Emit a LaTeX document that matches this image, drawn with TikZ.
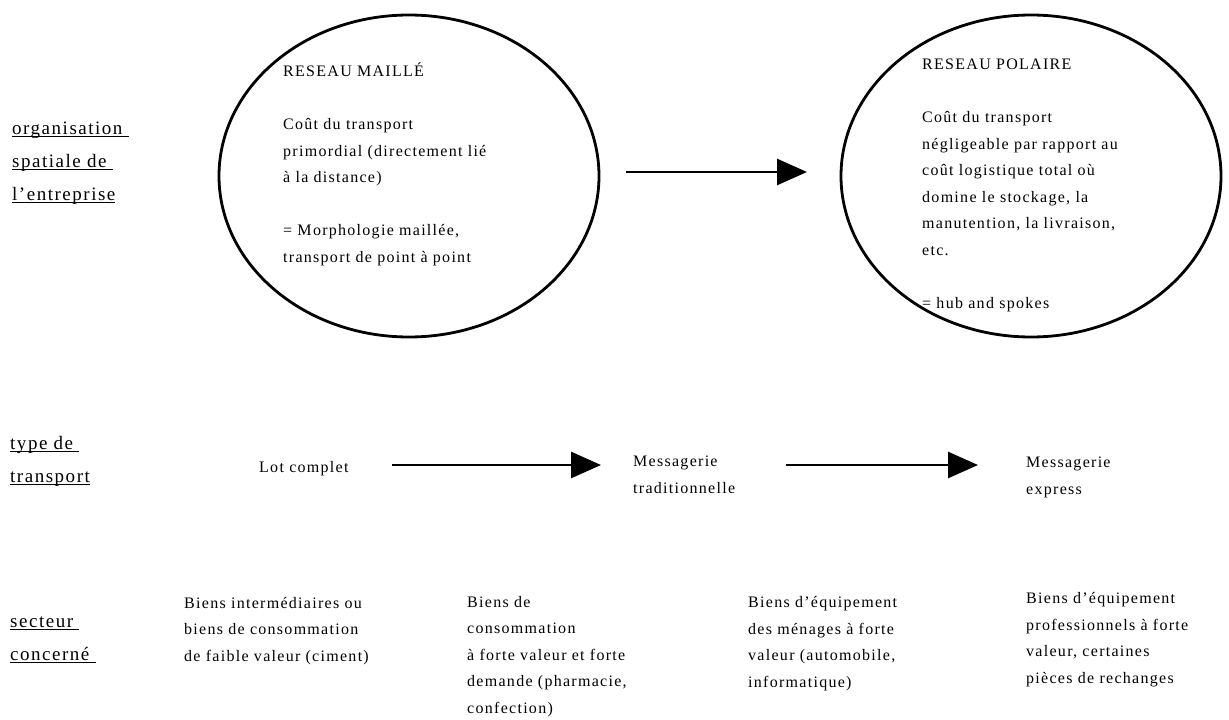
\documentclass[tikz,border=0pt]{standalone}
\usepackage{fontspec}
\setmainfont{Liberation Serif}[LetterSpace=8]
\usetikzlibrary{shapes}
\usetikzlibrary{positioning}
\usetikzlibrary{arrows.meta}

\newcommand{\souligne}[1]{\setbox0\hbox{#1}\rlap{\rule[-3pt]{\wd0}{1.2pt}}\box0}

\tikzset{
  zone/.style={ellipse, draw, line width=2.8pt, minimum width=380pt, minimum height=322pt},
  txt/.style={anchor=base west, align=left, inner sep=0pt, font=\fontsize{16}{26.5}\selectfont},
  rowlabel/.style={anchor=base west, align=left, inner sep=0pt, font=\fontsize{19}{33}\selectfont},
  fleche/.style={->, line width=2.8pt}
}

\begin{document}
\begin{tikzpicture}[x=1pt, y=-1pt, >={Triangle[length=30pt, width=26pt]}]
    \useasboundingbox (0,0) rectangle (1229,720);

    % row labels (placed at the baseline of their last line)
    \node[rowlabel] (org) at (12,200) {\souligne{organisation\ }\\ \souligne{spatiale de\ }\\ \souligne{l'entreprise}};
    \node[rowlabel] (type) at (10,482) {\souligne{type de\ }\\ \souligne{transport}};
    \node[rowlabel] (sect) at (10,660) {\souligne{secteur\ }\\ \souligne{concerné\ }};

    % networks
    \node[zone] (maille) at (409,176) {};
    \node[zone] (polaire) at (1031,176) {};
    \node[txt] (mailleT) at (283,262) {RESEAU MAILLÉ\\[26.5pt]
        Coût du transport\\ primordial (directement lié\\ à la distance)\\[26.5pt]
        = Morphologie maillée,\\ transport de point à point};
    \node[txt] (polaireT) at (922,308) {RESEAU POLAIRE\\[26.5pt]
        Coût du transport\\ négligeable par rapport au\\ coût logistique total où\\
        domine le stockage, la\\ manutention, la livraison,\\ etc.\\[26.5pt]
        = hub and spokes};
    \coordinate (t1) at (626,172);
    \coordinate (t2) at (807,172);
    \draw[fleche] (t1) -- (t2);

    % transport
    \node[txt] (lot) at (259,472) {Lot complet};
    \node[txt] (trad) at (633,493) {Messagerie\\ traditionnelle};
    \node[txt] (expr) at (1026,494) {Messagerie\\ express};
    \coordinate (a1) at (392,465);
    \coordinate (a2) at (601,465);
    \coordinate (b1) at (786,465);
    \coordinate (b2) at (978,465);
    \draw[fleche] (a1) -- (a2);
    \draw[fleche] (b1) -- (b2);

    % sectors
    \node[txt] (s1) at (184,661) {Biens intermédiaires ou\\ biens de consommation\\ de faible valeur (ciment)};
    \node[txt] (s2) at (467,713) {Biens de\\ consommation\\ à forte valeur et forte\\ demande (pharmacie,\\ confection)};
    \node[txt] (s3) at (748,687) {Biens d'équipement\\ des ménages à forte\\ valeur (automobile,\\ informatique)};
    \node[txt] (s4) at (1026,683) {Biens d'équipement\\ professionnels à forte\\ valeur, certaines\\ pièces de rechanges};
\end{tikzpicture}
\end{document}
